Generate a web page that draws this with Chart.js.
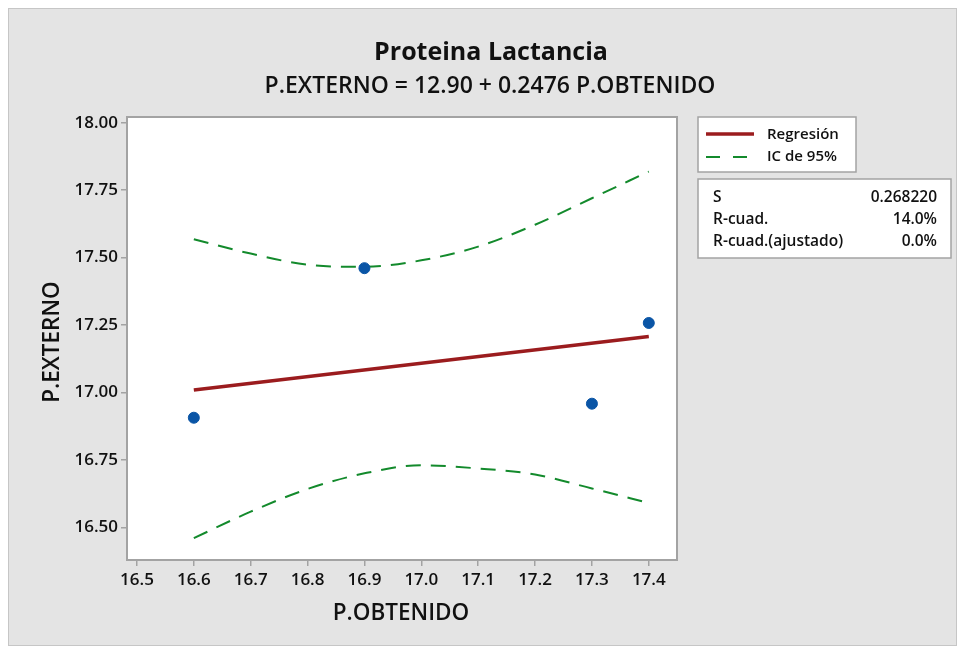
<!DOCTYPE html>
<html>
<head>
<meta charset="utf-8">
<title>Proteina Lactancia</title>
<script src="https://cdn.jsdelivr.net/npm/chart.js@4.4.1/dist/chart.umd.min.js"></script>
<style>
    html, body { margin: 0; padding: 0; background: #fff; }
    #wrap { position: relative; width: 961px; height: 647px; overflow: hidden; }
    #frame { position: absolute; left: 8px; top: 8px; width: 947px; height: 636px; background: #e4e4e4; border: 1px solid #c6c6c6; }
    #fitChart { position: absolute; left: 0; top: 0; }
</style>
</head>
<body>
<div id="wrap">
    <div id="frame"></div>
    <canvas id="fitChart" width="961" height="647"></canvas>
</div>
<script>
// data
const obtenido = [16.6, 16.9, 17.3, 17.4];
const externo = [16.907, 17.461, 16.959, 17.258];

const regX = [16.6, 17.4];
const regY = [17.010, 17.208];

const ciX = [16.6, 16.7, 16.8, 16.9, 17.0, 17.1, 17.2, 17.3, 17.4];
const ciUpper = [17.568, 17.515, 17.474, 17.466, 17.490, 17.541, 17.622, 17.720, 17.819];
const ciLower = [16.461, 16.559, 16.643, 16.701, 16.731, 16.719, 16.697, 16.645, 16.591];

const xTicks = [16.5, 16.6, 16.7, 16.8, 16.9, 17.0, 17.1, 17.2, 17.3, 17.4];
const yTicks = [16.5, 16.75, 17.0, 17.25, 17.5, 17.75, 18.0];

const legendLabels = ['Regresión', 'IC de 95%'];
const statNames = ['S', 'R-cuad.', 'R-cuad.(ajustado)'];
const statValues = ['0.268220', '14.0%', '0.0%'];

const titleText = 'Proteina Lactancia';
const subtitleText = 'P.EXTERNO = 12.90 + 0.2476 P.OBTENIDO';
const xTitle = 'P.OBTENIDO';
const yTitle = 'P.EXTERNO';

const FONT = "'Open Sans', 'Noto Sans', sans-serif";
const RED = '#9b1c1e';
const GREEN = '#138a2c';
const BLUE = '#0a55a6';
const TEXT = '#111';
const BORDER = '#a3a3a3';

const toXY = (xs, ys) => xs.map((x, i) => ({ x: x, y: ys[i] }));

// ================================================================
// Minitab-style decoration: plot frame, titles, legend, stats box
// ================================================================
const decor = {
    id: 'decor',
    beforeDraw(chart) {
        const a = chart.chartArea;
        const c = chart.ctx;
        c.save();
        c.fillStyle = '#fff';
        c.fillRect(a.left, a.top, a.right - a.left, a.bottom - a.top);
        c.restore();
    },
    afterDraw(chart) {
        const a = chart.chartArea;
        const c = chart.ctx;
        c.save();

        // plot border
        c.strokeStyle = BORDER;
        c.lineWidth = 2;
        c.strokeRect(a.left, a.top, a.right - a.left, a.bottom - a.top);

        c.fillStyle = TEXT;
        c.textBaseline = 'alphabetic';

        // titles
        c.textAlign = 'center';
        c.font = 'bold 25px ' + FONT;
        c.fillText(titleText, 491, 60);
        c.font = '600 23px ' + FONT;
        c.fillText(subtitleText, 490, 93);

        // axis titles
        c.font = '600 22.5px ' + FONT;
        c.fillText(xTitle, 401, 620);
        c.save();
        c.translate(59, 342);
        c.rotate(-Math.PI / 2);
        c.fillText(yTitle, 0, 0);
        c.restore();

        // legend box
        c.fillStyle = '#fff';
        c.fillRect(698, 117, 158, 55);
        c.strokeStyle = BORDER;
        c.lineWidth = 1.5;
        c.strokeRect(698, 117, 158, 55);

        c.lineWidth = 3.5;
        c.strokeStyle = RED;
        c.beginPath();
        c.moveTo(706, 134);
        c.lineTo(754, 134);
        c.stroke();

        c.lineWidth = 2;
        c.strokeStyle = GREEN;
        c.setLineDash([14, 13]);
        c.beginPath();
        c.moveTo(706, 157);
        c.lineTo(754, 157);
        c.stroke();
        c.setLineDash([]);

        c.fillStyle = TEXT;
        c.textAlign = 'left';
        c.font = '600 15px ' + FONT;
        c.fillText(legendLabels[0], 767, 139);
        c.fillText(legendLabels[1], 767, 161);

        // stats box
        c.fillStyle = '#fff';
        c.fillRect(698, 179, 253, 79);
        c.strokeStyle = BORDER;
        c.lineWidth = 1.5;
        c.strokeRect(698, 179, 253, 79);

        c.fillStyle = TEXT;
        c.font = '600 15.5px ' + FONT;
        statNames.forEach((name, i) => {
            const y = 202 + i * 22;
            c.textAlign = 'left';
            c.fillText(name, 713, y);
            c.textAlign = 'right';
            c.fillText(statValues[i], 937, y);
        });

        c.restore();
    }
};

const tickFont = { family: FONT, size: 17, weight: '600' };

new Chart(document.getElementById('fitChart'), {
    type: 'scatter',
    data: {
        datasets: [
            {
                label: 'Datos',
                data: toXY(obtenido, externo),
                backgroundColor: BLUE,
                borderColor: BLUE,
                pointRadius: 5.5,
                pointHoverRadius: 6,
                showLine: false
            },
            {
                label: legendLabels[0],
                data: toXY(regX, regY),
                borderColor: RED,
                backgroundColor: RED,
                borderWidth: 3.5,
                pointRadius: 0,
                showLine: true
            },
            {
                label: legendLabels[1],
                data: toXY(ciX, ciUpper),
                borderColor: GREEN,
                borderWidth: 2,
                borderDash: [15, 10],
                pointRadius: 0,
                showLine: true,
                cubicInterpolationMode: 'monotone'
            },
            {
                label: legendLabels[1] + ' (inf)',
                data: toXY(ciX, ciLower),
                borderColor: GREEN,
                borderWidth: 2,
                borderDash: [15, 10],
                pointRadius: 0,
                showLine: true,
                cubicInterpolationMode: 'monotone'
            }
        ]
    },
    options: {
        responsive: false,
        animation: false,
        devicePixelRatio: 1,
        layout: { padding: { left: 0, top: 117, right: 284, bottom: 0 } },
        plugins: {
            legend: { display: false },
            tooltip: { enabled: false },
            title: { display: false }
        },
        scales: {
            x: {
                type: 'linear',
                min: 16.4825,
                max: 17.4496,
                afterBuildTicks: s => { s.ticks = xTicks.map(v => ({ value: v })); },
                afterFit: s => { s.height = 87; },
                ticks: {
                    autoSkip: false,
                    maxRotation: 0,
                    color: TEXT,
                    font: tickFont,
                    padding: 4,
                    callback: v => v.toFixed(1)
                },
                grid: { drawOnChartArea: false, tickLength: 6, color: BORDER, lineWidth: 1.5 },
                border: { display: false }
            },
            y: {
                type: 'linear',
                min: 16.38,
                max: 18.021,
                afterBuildTicks: s => { s.ticks = yTicks.map(v => ({ value: v })); },
                afterFit: s => { s.width = 127; },
                ticks: {
                    autoSkip: false,
                    color: TEXT,
                    font: tickFont,
                    padding: 3,
                    callback: v => v.toFixed(2)
                },
                grid: { drawOnChartArea: false, tickLength: 6, color: BORDER, lineWidth: 1.5 },
                border: { display: false }
            }
        }
    },
    plugins: [decor]
});
</script>
</body>
</html>
